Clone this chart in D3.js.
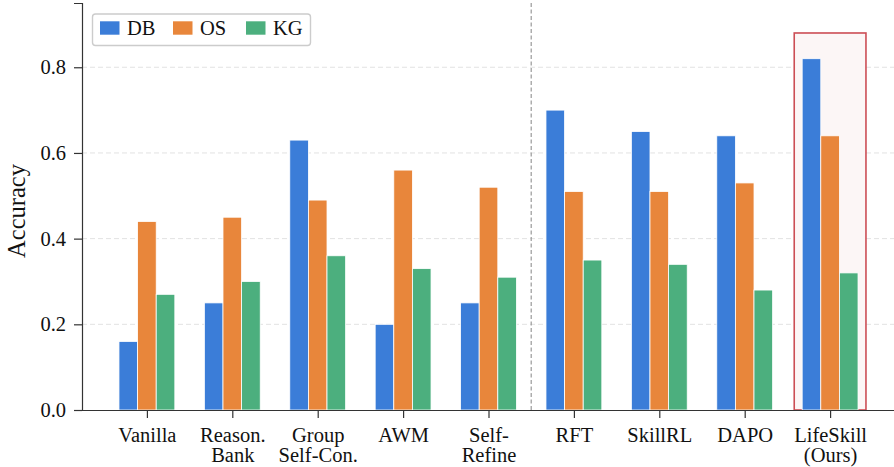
<!DOCTYPE html>
<style>
  body { margin: 0; background: #fff; }
</style>
<svg width="894" height="467"></svg>
<script src="https://d3js.org/d3.v7.min.js"></script>
<script>
  var methods = [["Vanilla"], ["Reason.", "Bank"], ["Group", "Self-Con."], ["AWM"], ["Self-", "Refine"],
                 ["RFT"], ["SkillRL"], ["DAPO"], ["LifeSkill", "(Ours)"]];
  var seriesNames = ["DB", "OS", "KG"];
  var dbVals = [0.16, 0.25, 0.63, 0.20, 0.25, 0.70, 0.65, 0.64, 0.82];
  var osVals = [0.44, 0.45, 0.49, 0.56, 0.52, 0.51, 0.51, 0.53, 0.64];
  var kgVals = [0.27, 0.30, 0.36, 0.33, 0.31, 0.35, 0.34, 0.28, 0.32];
  var yTicks = [0.0, 0.2, 0.4, 0.6, 0.8];
  var colors = ["#3b7dd8", "#e8863b", "#4caf7e"];
  var serif = "'Liberation Serif', 'Times New Roman', serif";
  var fs = 20.5;

  var series = [dbVals, osVals, kgVals];
  var svg = d3.select("svg").style("font-family", serif);

  var x = d3.scaleLinear().domain([-0.76, 8.76]).range([82, 895]);
  var y = d3.scaleLinear().domain([0, 0.95]).range([410, 3]);
  var barW = 0.218;

  // grid
  svg.append("g").selectAll("line")
    .data(yTicks.slice(1))
    .enter().append("line")
      .attr("x1", x(-0.76)).attr("x2", x(8.76))
      .attr("y1", y).attr("y2", y)
      .attr("stroke", "#e2e2e2").attr("stroke-width", 1)
      .attr("stroke-dasharray", "5,3");

  // highlight box for our method
  svg.append("rect")
    .attr("x", x(7.58)).attr("y", y(0.88))
    .attr("width", x(8.42) - x(7.58)).attr("height", y(0) - y(0.88))
    .attr("fill", "#fcf6f6").attr("stroke", "#cc4e55").attr("stroke-width", 1.6);

  // separator
  svg.append("line")
    .attr("x1", x(4.5)).attr("x2", x(4.5))
    .attr("y1", y(0.95)).attr("y2", y(0))
    .attr("stroke", "#999").attr("stroke-width", 1.2)
    .attr("stroke-dasharray", "4,2.5");

  // bars
  series.forEach(function(vals, s) {
    svg.append("g").selectAll("rect")
      .data(vals)
      .enter().append("rect")
        .attr("x", function(d, i) { return x(i + (s - 1) * barW - barW / 2); })
        .attr("width", x(barW) - x(0))
        .attr("y", function(d) { return y(d); })
        .attr("height", function(d) { return y(0) - y(d); })
        .attr("fill", colors[s])
        .attr("stroke", "#fff").attr("stroke-width", 0.8);
  });

  // y axis
  var yAxis = svg.append("g")
    .attr("transform", "translate(82,0)")
    .call(d3.axisLeft(y).tickValues(yTicks).tickFormat(d3.format(".1f")).tickSize(8).tickPadding(8));
  yAxis.attr("font-family", null).attr("font-size", null);
  yAxis.select(".domain").attr("stroke", "#333").attr("stroke-width", 1.2);
  yAxis.selectAll(".tick line").attr("stroke", "#333").attr("stroke-width", 1.2);
  yAxis.selectAll("text").style("font-family", serif).attr("font-size", fs).attr("fill", "#111");

  // x axis
  var xAxis = svg.append("g")
    .attr("transform", "translate(0,410)")
    .call(d3.axisBottom(x).tickValues(d3.range(methods.length)).tickFormat("").tickSize(8).tickSizeOuter(0));
  xAxis.attr("font-family", null).attr("font-size", null);
  xAxis.select(".domain").attr("stroke", "#333").attr("stroke-width", 1.2);
  xAxis.selectAll(".tick line").attr("stroke", "#333").attr("stroke-width", 1.2);

  xAxis.selectAll(".tick").append("text")
    .attr("text-anchor", "middle")
    .style("font-family", serif)
    .attr("font-size", fs)
    .attr("fill", "#111")
    .each(function(d) {
      var t = d3.select(this);
      methods[d].forEach(function(line, k) {
        t.append("tspan").attr("x", 0).attr("y", 31.7 + k * 20).text(line);
      });
    });

  // y label
  svg.append("text")
    .attr("transform", "translate(25,211) rotate(-90)")
    .attr("text-anchor", "middle")
    .style("font-family", serif)
    .attr("font-size", 24.5)
    .attr("fill", "#111")
    .text("Accuracy");

  // legend
  var lg = svg.append("g").attr("transform", "translate(92.5,14)");
  lg.append("rect")
    .attr("width", 218).attr("height", 31.5).attr("rx", 3)
    .attr("fill", "#fff").attr("stroke", "#ccc").attr("stroke-width", 1.4);
  var items = lg.selectAll("g.item")
    .data(seriesNames)
    .enter().append("g")
      .attr("transform", function(d, i) { return "translate(" + (7.5 + i * 73) + ",0)"; });
  items.append("rect")
    .attr("y", 7.3).attr("width", 19.5).attr("height", 13.4)
    .attr("fill", function(d, i) { return colors[i]; });
  items.append("text")
    .attr("x", 27).attr("y", 21)
    .style("font-family", serif)
    .attr("font-size", fs)
    .attr("fill", "#111")
    .text(function(d) { return d; });
</script>
